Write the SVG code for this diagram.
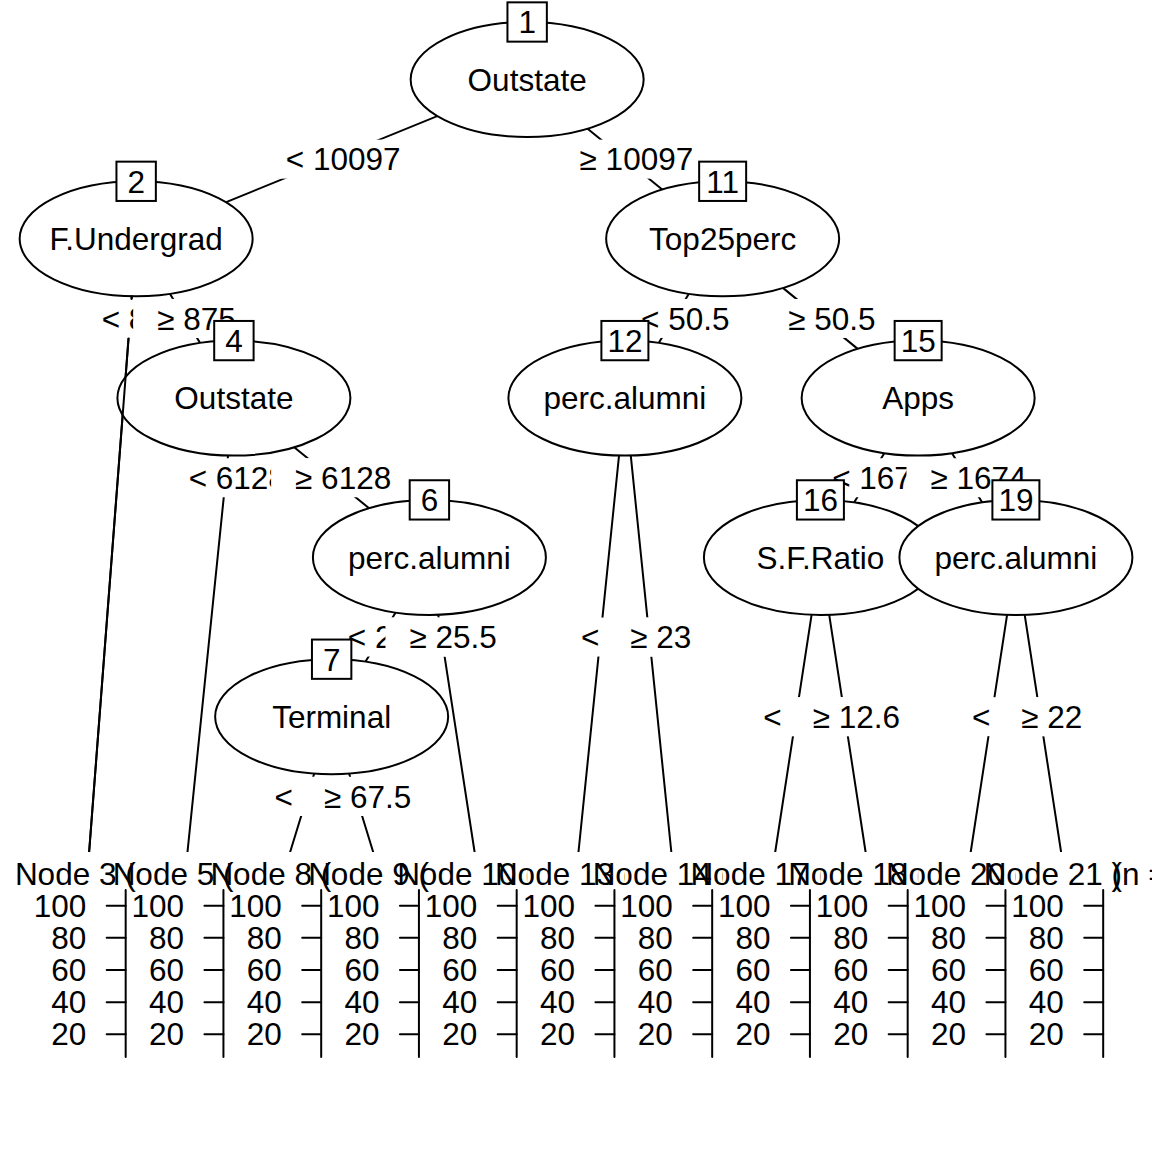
<svg xmlns="http://www.w3.org/2000/svg" width="1152" height="1152" viewBox="0 0 1152 1152">
<style>
text{font-family:"Liberation Sans",Arial,Helvetica,sans-serif;font-size:31.5px;fill:#000}
.m{text-anchor:middle}
.r{text-anchor:end}
.e{fill:#fff;stroke:#000;stroke-width:2}
.b{fill:#fff;stroke:#000;stroke-width:2}
.bg{fill:#fff;stroke:none}
.c line,.ax line{stroke:#000;stroke-width:2;stroke-linecap:round}
</style>
<rect width="1152" height="1152" fill="#fff"/>
<g id="connectors" class="c">
<line x1="527.15" y1="79.5" x2="136.15" y2="238.8"/>
<line x1="527.15" y1="79.5" x2="722.65" y2="238.8"/>
<line x1="136.15" y1="238.8" x2="87.28" y2="876"/>
<line x1="136.15" y1="238.8" x2="233.9" y2="398.1"/>
<line x1="722.65" y1="238.8" x2="624.9" y2="398.1"/>
<line x1="722.65" y1="238.8" x2="918.15" y2="398.1"/>
<line x1="233.9" y1="398.1" x2="185.03" y2="876"/>
<line x1="233.9" y1="398.1" x2="429.4" y2="557.4"/>
<line x1="624.9" y1="398.1" x2="576.03" y2="876"/>
<line x1="624.9" y1="398.1" x2="673.78" y2="876"/>
<line x1="918.15" y1="398.1" x2="820.4" y2="557.4"/>
<line x1="918.15" y1="398.1" x2="1015.9" y2="557.4"/>
<line x1="429.4" y1="557.4" x2="331.65" y2="716.7"/>
<line x1="429.4" y1="557.4" x2="478.28" y2="876"/>
<line x1="820.4" y1="557.4" x2="771.53" y2="876"/>
<line x1="820.4" y1="557.4" x2="869.28" y2="876"/>
<line x1="1015.9" y1="557.4" x2="967.03" y2="876"/>
<line x1="1015.9" y1="557.4" x2="1064.78" y2="876"/>
<line x1="331.65" y1="716.7" x2="282.78" y2="876"/>
<line x1="331.65" y1="716.7" x2="380.53" y2="876"/>
</g>
<g id="edge-labels">
<rect class="bg" x="261.8" y="139.65" width="162.7" height="39"/><text class="m" x="343.15" y="170.45">&lt; 10097</text>
<rect class="bg" x="555.6" y="139.65" width="161.6" height="39"/><text class="m" x="636.4" y="170.45">≥ 10097</text>
<rect class="bg" x="77.7" y="298.95" width="127.7" height="39"/><text class="m" x="141.54" y="329.75">&lt; 875</text>
<rect class="bg" x="133.2" y="298.95" width="126.6" height="39"/><text class="m" x="196.53" y="329.75">≥ 875</text>
<rect class="bg" x="617.0" y="298.95" width="136.5" height="39"/><text class="m" x="685.28" y="329.75">&lt; 50.5</text>
<rect class="bg" x="764.25" y="298.95" width="135.3" height="39"/><text class="m" x="831.9" y="329.75">≥ 50.5</text>
<rect class="bg" x="164.65" y="458.25" width="145.2" height="39"/><text class="m" x="237.25" y="489.05">&lt; 6128</text>
<rect class="bg" x="271.1" y="458.25" width="144.1" height="39"/><text class="m" x="343.15" y="489.05">≥ 6128</text>
<rect class="bg" x="808.18" y="458.25" width="145.2" height="39"/><text class="m" x="880.78" y="489.05">&lt; 1674</text>
<rect class="bg" x="906.48" y="458.25" width="144.1" height="39"/><text class="m" x="978.53" y="489.05">≥ 1674</text>
<rect class="bg" x="323.78" y="617.55" width="136.5" height="39"/><text class="m" x="392.03" y="648.35">&lt; 25.5</text>
<rect class="bg" x="385.47" y="617.55" width="135.3" height="39"/><text class="m" x="453.12" y="648.35">≥ 25.5</text>
<rect class="bg" x="556.87" y="617.55" width="110.2" height="39"/><text class="m" x="611.97" y="648.35">&lt; 23</text>
<rect class="bg" x="606.29" y="617.55" width="109.1" height="39"/><text class="m" x="660.84" y="648.35">≥ 23</text>
<rect class="bg" x="739.22" y="697.2" width="136.5" height="39"/><text class="m" x="807.47" y="728">&lt; 12.6</text>
<rect class="bg" x="788.69" y="697.2" width="135.3" height="39"/><text class="m" x="856.34" y="728">≥ 12.6</text>
<rect class="bg" x="947.87" y="697.2" width="110.2" height="39"/><text class="m" x="1002.97" y="728">&lt; 22</text>
<rect class="bg" x="997.29" y="697.2" width="109.1" height="39"/><text class="m" x="1051.84" y="728">≥ 22</text>
<rect class="bg" x="250.47" y="776.85" width="136.5" height="39"/><text class="m" x="318.72" y="807.65">&lt; 67.5</text>
<rect class="bg" x="299.94" y="776.85" width="135.3" height="39"/><text class="m" x="367.59" y="807.65">≥ 67.5</text>
</g>
<g id="node-1"><ellipse class="e" cx="527.15" cy="79.5" rx="116.5" ry="57.5"/><text class="m" x="527.15" y="90.7">Outstate</text><rect class="b" x="507.45" y="2.35" width="39.4" height="39.3"/><text class="m" x="527.15" y="33.3">1</text></g>
<g id="node-2"><ellipse class="e" cx="136.15" cy="238.8" rx="116.5" ry="57.5"/><text class="m" x="136.15" y="250">F.Undergrad</text><rect class="b" x="116.45" y="161.65" width="39.4" height="39.3"/><text class="m" x="136.15" y="192.6">2</text></g>
<g id="node-11"><ellipse class="e" cx="722.65" cy="238.8" rx="116.5" ry="57.5"/><text class="m" x="722.65" y="250">Top25perc</text><rect class="b" x="699.15" y="161.65" width="47" height="39.3"/><text class="m" x="722.65" y="192.6">11</text></g>
<g id="node-4"><ellipse class="e" cx="233.9" cy="398.1" rx="116.5" ry="57.5"/><text class="m" x="233.9" y="409.3">Outstate</text><rect class="b" x="214.2" y="320.95" width="39.4" height="39.3"/><text class="m" x="233.9" y="351.9">4</text></g>
<g id="node-12"><ellipse class="e" cx="624.9" cy="398.1" rx="116.5" ry="57.5"/><text class="m" x="624.9" y="409.3">perc.alumni</text><rect class="b" x="601.4" y="320.95" width="47" height="39.3"/><text class="m" x="624.9" y="351.9">12</text></g>
<g id="node-15"><ellipse class="e" cx="918.15" cy="398.1" rx="116.5" ry="57.5"/><text class="m" x="918.15" y="409.3">Apps</text><rect class="b" x="894.65" y="320.95" width="47" height="39.3"/><text class="m" x="918.15" y="351.9">15</text></g>
<g id="node-6"><ellipse class="e" cx="429.4" cy="557.4" rx="116.5" ry="57.5"/><text class="m" x="429.4" y="568.6">perc.alumni</text><rect class="b" x="409.7" y="480.25" width="39.4" height="39.3"/><text class="m" x="429.4" y="511.2">6</text></g>
<g id="node-16"><ellipse class="e" cx="820.4" cy="557.4" rx="116.5" ry="57.5"/><text class="m" x="820.4" y="568.6">S.F.Ratio</text><rect class="b" x="796.9" y="480.25" width="47" height="39.3"/><text class="m" x="820.4" y="511.2">16</text></g>
<g id="node-19"><ellipse class="e" cx="1015.9" cy="557.4" rx="116.5" ry="57.5"/><text class="m" x="1015.9" y="568.6">perc.alumni</text><rect class="b" x="992.4" y="480.25" width="47" height="39.3"/><text class="m" x="1015.9" y="511.2">19</text></g>
<g id="node-7"><ellipse class="e" cx="331.65" cy="716.7" rx="116.5" ry="57.5"/><text class="m" x="331.65" y="727.9">Terminal</text><rect class="b" x="311.95" y="639.55" width="39.4" height="39.3"/><text class="m" x="331.65" y="670.5">7</text></g>
<g id="connector-2-3-over" class="c">
<line x1="131.79" y1="296.26" x2="131.58" y2="299"/>
<line x1="128.55" y1="338.5" x2="89.14" y2="852"/>
</g>
<defs>
<g id="axis" class="ax">
<line x1="0" y1="890" x2="0" y2="1057"/>
<line x1="-19" y1="905.7" x2="0" y2="905.7"/>
<line x1="-19" y1="937.85" x2="0" y2="937.85"/>
<line x1="-19" y1="970" x2="0" y2="970"/>
<line x1="-19" y1="1002.15" x2="0" y2="1002.15"/>
<line x1="-19" y1="1034.3" x2="0" y2="1034.3"/>
<text class="r" x="-39.4" y="916.7">100</text>
<text class="r" x="-39.4" y="948.85">80</text>
<text class="r" x="-39.4" y="981">60</text>
<text class="r" x="-39.4" y="1013.15">40</text>
<text class="r" x="-39.4" y="1045.3">20</text>
</g>
</defs>
<g id="node-3"><rect class="bg" x="38.4" y="852" width="97.75" height="300"/><text x="14.88" y="885">Node 3 (</text><use href="#axis" x="125.68"/></g>
<g id="node-5"><rect class="bg" x="136.15" y="852" width="97.75" height="300"/><text x="112.63" y="885">Node 5 (</text><use href="#axis" x="223.43"/></g>
<g id="node-8"><rect class="bg" x="233.9" y="852" width="97.75" height="300"/><text x="210.38" y="885">Node 8 (</text><use href="#axis" x="321.18"/></g>
<g id="node-9"><rect class="bg" x="331.65" y="852" width="97.75" height="300"/><text x="308.13" y="885">Node 9 (</text><use href="#axis" x="418.93"/></g>
<g id="node-10"><rect class="bg" x="429.4" y="852" width="97.75" height="300"/><text x="397.13" y="885">Node 10 (</text><use href="#axis" x="516.68"/></g>
<g id="node-13"><rect class="bg" x="527.15" y="852" width="97.75" height="300"/><text x="494.88" y="885">Node 13 (</text><use href="#axis" x="614.43"/></g>
<g id="node-14"><rect class="bg" x="624.9" y="852" width="97.75" height="300"/><text x="592.63" y="885">Node 14 (</text><use href="#axis" x="712.18"/></g>
<g id="node-17"><rect class="bg" x="722.65" y="852" width="97.75" height="300"/><text x="690.38" y="885">Node 17 (</text><use href="#axis" x="809.93"/></g>
<g id="node-18"><rect class="bg" x="820.4" y="852" width="97.75" height="300"/><text x="788.13" y="885">Node 18 (</text><use href="#axis" x="907.68"/></g>
<g id="node-20"><rect class="bg" x="918.15" y="852" width="97.75" height="300"/><text x="885.88" y="885">Node 20 (</text><use href="#axis" x="1005.43"/></g>
<g id="node-21"><rect class="bg" x="1015.9" y="852" width="97.75" height="300"/><text x="983.63" y="885">Node 21 (n =</text><text x="1111.4" y="885">)</text><use href="#axis" x="1103.18"/></g>
</svg>
